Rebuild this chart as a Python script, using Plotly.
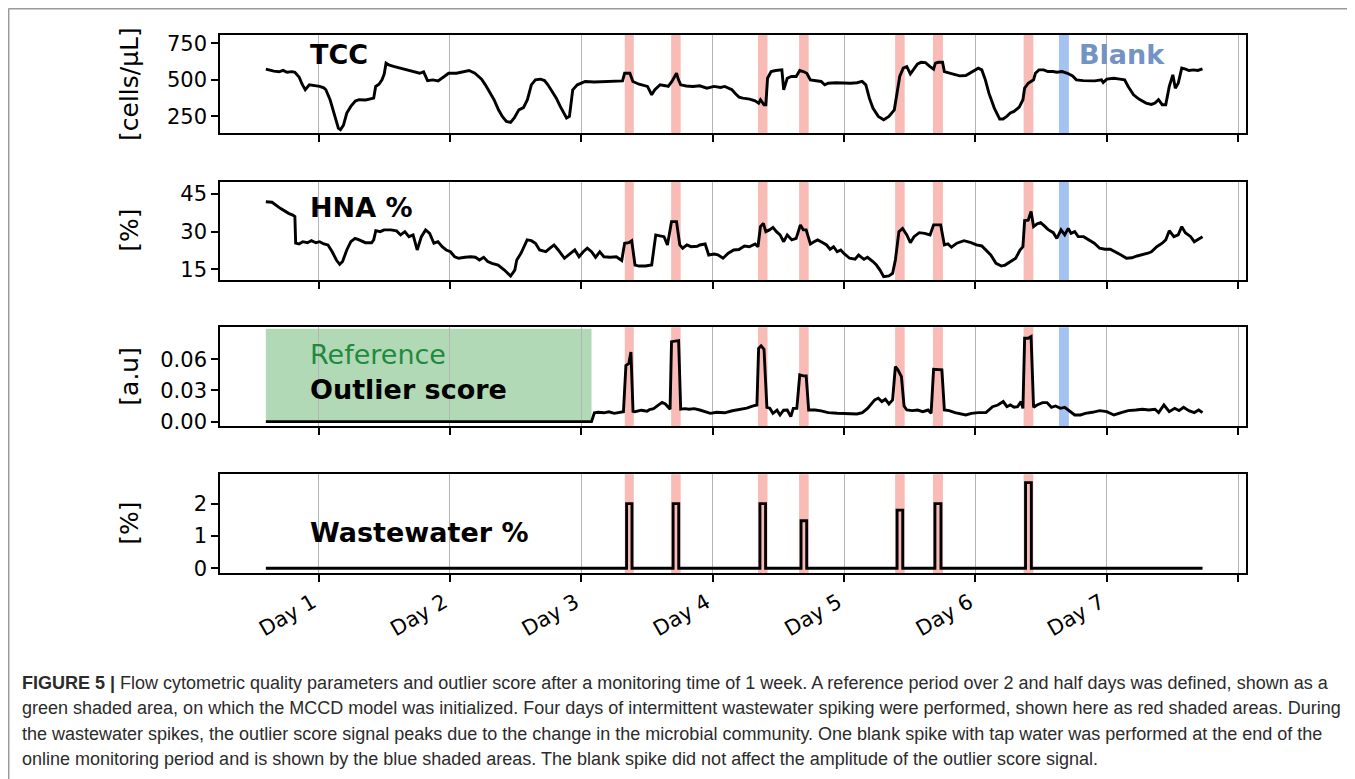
import plotly.graph_objects as go

# ---------------- data (time in days) ----------------
tcc_day = [0.599, 0.63, 0.66, 0.70, 0.73, 0.76, 0.80, 0.82, 0.852, 0.875, 0.899, 0.93, 0.96, 1.009, 1.04, 1.056,
           1.088, 1.12, 1.151, 1.167, 1.19, 1.215, 1.246, 1.28, 1.309, 1.36, 1.40, 1.420, 1.435, 1.46, 1.483, 1.50,
           1.514, 1.54, 1.578, 1.62, 1.673, 1.72, 1.77, 1.80, 1.830, 1.87, 1.91, 1.957, 1.99, 2.05, 2.10, 2.146,
           2.19, 2.241, 2.27, 2.30, 2.336, 2.37, 2.399, 2.43, 2.462, 2.49, 2.525, 2.56, 2.59, 2.620, 2.651, 2.69,
           2.72, 2.746, 2.78, 2.81, 2.84, 2.872, 2.888, 2.91, 2.935, 2.97, 3.030, 3.10, 3.20, 3.28, 3.314, 3.33,
           3.37, 3.393, 3.44, 3.504, 3.536, 3.56, 3.60, 3.64, 3.662, 3.69, 3.725, 3.74, 3.757, 3.80, 3.85, 3.902,
           3.956, 4.011, 4.06, 4.092, 4.147, 4.174, 4.201, 4.23, 4.282, 4.323, 4.350, 4.364, 4.391, 4.405, 4.418,
           4.445, 4.48, 4.527, 4.541, 4.568, 4.60, 4.636, 4.663, 4.69, 4.717, 4.744, 4.78, 4.826, 4.853, 4.880,
           4.94, 4.989, 5.05, 5.10, 5.138, 5.166, 5.193, 5.220, 5.261, 5.302, 5.342, 5.383, 5.397, 5.424, 5.451,
           5.478, 5.505, 5.533, 5.560, 5.587, 5.62, 5.655, 5.682, 5.696, 5.72, 5.750, 5.764, 5.79, 5.832, 5.88,
           5.927, 5.967, 6.022, 6.049, 6.076, 6.103, 6.144, 6.185, 6.21, 6.239, 6.266, 6.294, 6.334, 6.362, 6.375,
           6.402, 6.443, 6.457, 6.484, 6.52, 6.552, 6.59, 6.620, 6.66, 6.701, 6.740, 6.769, 6.82, 6.864, 6.91,
           6.960, 6.973, 7.000, 7.055, 7.10, 7.136, 7.163, 7.204, 7.245, 7.299, 7.340, 7.367, 7.394, 7.422, 7.449,
           7.476, 7.503, 7.522, 7.544, 7.571, 7.60, 7.626, 7.66, 7.693, 7.729]
tcc_val = [573, 565, 560, 555, 565, 552, 556, 552, 520, 470, 432, 466, 462, 455, 445, 432,
           364, 273, 170, 159, 190, 273, 318, 355, 364, 362, 372, 375, 455, 470, 500, 540,
           614, 600, 591, 580, 568, 557, 545, 555, 495, 500, 493, 523, 545, 545, 555, 564,
           545, 505, 466, 420, 364, 295, 250, 216, 209, 240, 295, 310, 364, 466, 500, 505,
           495, 466, 420, 375, 318, 261, 239, 250, 432, 466, 489, 485, 488, 490, 493, 545,
           545, 489, 470, 455, 398, 432, 466, 460, 455, 489, 545, 500, 466, 458, 455, 459,
           443, 455, 448, 455, 432, 405, 382, 375, 368, 357, 341, 364, 330, 330, 511,
           557, 564, 568, 432, 511, 523, 523, 564, 557, 545, 500, 495, 489, 466, 477,
           480, 477, 477, 480, 489, 466, 375, 307, 250, 227, 250, 295, 364, 523, 580,
           591, 541, 573, 609, 620, 618, 591, 573, 614, 620, 620, 557, 550, 541, 527,
           530, 552, 580, 568, 500, 409, 307, 232, 232, 250, 273, 284, 314, 364, 443,
           477, 500, 545, 568, 568, 557, 557, 552, 557, 545, 527, 500, 495, 495, 493,
           500, 482, 505, 511, 505, 500, 455, 398, 368, 341, 332, 341, 364, 330, 330,
           455, 534, 443, 477, 580, 573, 564, 568, 564, 575]

hna_day = [0.599, 0.646, 0.709, 0.74, 0.772, 0.804, 0.820, 0.826, 0.851, 0.88, 0.915, 0.946, 0.98, 1.009, 1.04,
           1.072, 1.104, 1.136, 1.161, 1.183, 1.215, 1.246, 1.278, 1.309, 1.357, 1.404, 1.420, 1.436, 1.47, 1.499,
           1.55, 1.594, 1.625, 1.657, 1.688, 1.720, 1.751, 1.783, 1.815, 1.846, 1.878, 1.909, 1.941, 1.972, 2.004,
           2.036, 2.067, 2.115, 2.16, 2.194, 2.225, 2.257, 2.288, 2.320, 2.367, 2.415, 2.462, 2.494, 2.509, 2.541,
           2.588, 2.620, 2.651, 2.683, 2.730, 2.762, 2.793, 2.825, 2.872, 2.920, 2.951, 2.983, 3.015, 3.046, 3.078,
           3.109, 3.141, 3.172, 3.220, 3.267, 3.308, 3.330, 3.362, 3.384, 3.409, 3.441, 3.488, 3.536, 3.567, 3.599,
           3.630, 3.656, 3.687, 3.725, 3.750, 3.772, 3.804, 3.836, 3.883, 3.902, 3.943, 3.970, 4.011, 4.040, 4.079,
           4.119, 4.160, 4.20, 4.242, 4.28, 4.323, 4.345, 4.364, 4.386, 4.405, 4.432, 4.459, 4.486, 4.513, 4.541,
           4.568, 4.603, 4.636, 4.668, 4.690, 4.712, 4.744, 4.772, 4.799, 4.839, 4.867, 4.894, 4.921, 4.948, 4.975,
           5.003, 5.043, 5.084, 5.111, 5.152, 5.179, 5.220, 5.247, 5.274, 5.302, 5.342, 5.370, 5.391, 5.418, 5.446,
           5.478, 5.505, 5.533, 5.573, 5.614, 5.655, 5.682, 5.736, 5.764, 5.791, 5.818, 5.859, 5.913, 5.967, 6.008,
           6.049, 6.076, 6.117, 6.157, 6.198, 6.226, 6.266, 6.307, 6.340, 6.362, 6.375, 6.402, 6.424, 6.443, 6.470,
           6.497, 6.525, 6.552, 6.593, 6.620, 6.652, 6.680, 6.707, 6.728, 6.756, 6.783, 6.824, 6.864, 6.905, 6.946,
           6.987, 7.027, 7.068, 7.109, 7.150, 7.191, 7.231, 7.272, 7.313, 7.340, 7.381, 7.422, 7.449, 7.476, 7.511,
           7.544, 7.571, 7.598, 7.639, 7.666, 7.693, 7.729]
hna_val = [41.9, 41.7, 39.3, 38.3, 37.3, 36.6, 36.0, 25.4, 25.1, 26.0, 25.6, 26.4, 25.6, 26.0, 25.1,
           24.7, 22.0, 18.7, 17.0, 18.1, 22.7, 26.0, 27.3, 26.7, 25.6, 25.6, 26.7, 30.4, 30.0, 30.7,
           30.7, 30.3, 28.7, 30.0, 28.0, 28.7, 22.7, 28.0, 30.7, 29.3, 25.4, 26.0, 24.0, 22.7, 22.0,
           20.0, 19.4, 19.8, 20.0, 19.8, 18.7, 19.8, 18.1, 17.4, 16.7, 14.7, 12.3, 14.7, 18.7, 21.4,
           26.7, 26.4, 25.4, 22.7, 22.0, 23.4, 24.7, 22.7, 19.4, 21.4, 22.7, 20.0, 22.0, 23.4, 22.0,
           19.8, 22.0, 20.0, 19.8, 20.0, 18.5, 25.4, 25.6, 26.4, 16.7, 16.3, 16.3, 16.7, 28.7, 28.3,
           28.0, 24.7, 34.0, 34.0, 24.7, 23.4, 24.7, 24.0, 24.2, 24.7, 25.1, 20.7, 21.1, 20.8, 19.4,
           21.4, 22.7, 22.9, 24.3, 24.0, 25.1, 24.0, 32.0, 33.3, 30.0, 30.7, 31.7, 30.0, 28.7, 26.0,
           28.7, 26.7, 27.3, 32.7, 30.7, 30.7, 25.1, 26.0, 26.7, 25.6, 24.7, 23.0, 24.0, 22.0, 22.7,
           21.1, 19.4, 19.0, 20.7, 19.0, 19.8, 18.1, 16.7, 14.7, 12.1, 12.4, 13.4, 18.7, 30.0, 31.3,
           28.7, 25.6, 28.0, 29.6, 29.3, 28.7, 32.7, 32.7, 24.7, 25.1, 23.8, 25.4, 26.4, 25.6, 24.7,
           24.3, 22.7, 20.7, 17.4, 16.3, 16.7, 18.1, 19.4, 22.7, 24.0, 34.4, 34.6, 38.0, 32.0, 33.1,
           33.6, 32.3, 30.9, 29.6, 27.3, 30.7, 28.7, 31.3, 29.3, 30.0, 28.0, 28.0, 26.7, 25.4, 23.4,
           23.0, 23.0, 22.0, 20.7, 19.4, 19.6, 20.3, 20.7, 21.4, 22.0, 24.0, 25.4, 26.7, 30.4, 28.0,
           28.7, 32.0, 29.6, 28.0, 26.0, 26.9, 28.0]

out_day = [0.599, 3.078, 3.100, 3.13, 3.172, 3.21, 3.251, 3.29, 3.321, 3.340, 3.362, 3.378, 3.394, 3.409, 3.457,
           3.50, 3.520, 3.55, 3.583, 3.615, 3.640, 3.662, 3.676, 3.687, 3.741, 3.757, 3.79, 3.820, 3.86, 3.902,
           3.94, 3.983, 4.03, 4.092, 4.15, 4.201, 4.26, 4.309, 4.337, 4.350, 4.369, 4.391, 4.413, 4.435, 4.459,
           4.49, 4.513, 4.54, 4.568, 4.595, 4.614, 4.641, 4.663, 4.690, 4.712, 4.731, 4.78, 4.826, 4.88, 4.948,
           5.02, 5.098, 5.14, 5.179, 5.234, 5.261, 5.288, 5.315, 5.342, 5.370, 5.391, 5.410, 5.437, 5.457, 5.478,
           5.52, 5.560, 5.60, 5.640, 5.663, 5.682, 5.723, 5.745, 5.764, 5.80, 5.845, 5.89, 5.927, 5.97, 6.022,
           6.08, 6.131, 6.171, 6.212, 6.24, 6.266, 6.295, 6.321, 6.348, 6.362, 6.375, 6.402, 6.424, 6.443, 6.470,
           6.511, 6.545, 6.579, 6.61, 6.647, 6.68, 6.715, 6.756, 6.80, 6.837, 6.89, 6.946, 7.00, 7.055, 7.11,
           7.163, 7.22, 7.272, 7.32, 7.367, 7.395, 7.435, 7.476, 7.517, 7.55, 7.585, 7.625, 7.666, 7.70, 7.729]
out_val = [0.0, 0.0, 0.0085, 0.0090, 0.0085, 0.0095, 0.0080, 0.0088, 0.0095, 0.054, 0.056, 0.067, 0.0100, 0.0095, 0.0110,
           0.0100, 0.0115, 0.0125, 0.0160, 0.0185, 0.0170, 0.0140, 0.0120, 0.077, 0.078, 0.0120, 0.0125, 0.0120, 0.0125, 0.0112,
           0.0100, 0.0080, 0.0090, 0.0085, 0.0105, 0.0119, 0.0130, 0.0151, 0.0160, 0.0706, 0.0729, 0.0697, 0.0138, 0.0130, 0.0080,
           0.0110, 0.0064, 0.0110, 0.0112, 0.0048, 0.0128, 0.0128, 0.045, 0.044, 0.044, 0.0112, 0.0112, 0.0103, 0.0087, 0.0080,
           0.0080, 0.0074, 0.0087, 0.0128, 0.0209, 0.0225, 0.0193, 0.0215, 0.0170, 0.0209, 0.053, 0.0498, 0.0433, 0.0151, 0.0112,
           0.0106, 0.0112, 0.0096, 0.0112, 0.0080, 0.0504, 0.0504, 0.0498, 0.0112, 0.0106, 0.0087, 0.0074, 0.0064, 0.0080, 0.0087,
           0.0087, 0.0144, 0.0160, 0.0193, 0.0144, 0.0160, 0.0138, 0.0144, 0.0193, 0.0128, 0.0803, 0.0803, 0.0819, 0.0138, 0.0160,
           0.0183, 0.0183, 0.0138, 0.0151, 0.0128, 0.0138, 0.0106, 0.0064, 0.0064, 0.0080, 0.0090, 0.0106, 0.0096, 0.0064, 0.0087,
           0.0106, 0.0112, 0.0119, 0.0112, 0.0119, 0.0087, 0.0160, 0.0096, 0.0128, 0.0106, 0.0138, 0.0106, 0.0087, 0.0112, 0.0087]

# wastewater spiking: shaded intervals, dosing on/off times and dosed %
spike_start = [3.331, 3.684, 4.345, 4.658, 5.389, 5.677, 6.367]
spike_end = [3.400, 3.757, 4.418, 4.731, 5.462, 5.753, 6.441]
ww_on = [3.345, 3.699, 4.360, 4.673, 5.404, 5.692, 6.382]
ww_off = [3.386, 3.742, 4.403, 4.716, 5.447, 5.738, 6.426]
ww_pct = [2.0, 2.0, 2.0, 1.47, 1.8, 2.0, 2.65]
blank_start, blank_end = 6.636, 6.712
reference_end = 3.078

day_ticks = [1, 2, 3, 4, 5, 6, 7, 8]
day_labels = ["Day 1", "Day 2", "Day 3", "Day 4", "Day 5", "Day 6", "Day 7", ""]

caption_lines = [
    "<b>FIGURE 5 |</b> Flow cytometric quality parameters and outlier score after a monitoring time of 1 week. A reference period over 2 and half days was defined, shown as a",
    "green shaded area, on which the MCCD model was initialized. Four days of intermittent wastewater spiking were performed, shown here as red shaded areas. During",
    "the wastewater spikes, the outlier score signal peaks due to the change in the microbial community. One blank spike with tap water was performed at the end of the",
    "online monitoring period and is shown by the blue shaded areas. The blank spike did not affect the amplitude of the outlier score signal.",
]

# ---------------- build the step line for wastewater % ----------------
ww_x = [tcc_day[0]]
ww_y = [0.0]
for on, off, v in zip(ww_on, ww_off, ww_pct):
    ww_x += [on, off]
    ww_y += [v, 0.0]
ww_x.append(tcc_day[-1])
ww_y.append(0.0)

# ---------------- layout geometry ----------------
# the page adds an 8px body margin, so the figure is drawn 8px smaller and
# every page-pixel position below is converted with that offset
OFF = 8
W, H = 1355 - OFF, 779 - OFF


def px(x):
    return (x - OFF) / W


def py(y):
    return 1 - (y - OFF) / H


x_dom = [px(220), px(1246)]
panels = [  # (top px, bottom px, y range)
    (35, 133, [136.4, 806.8]),
    (181.7, 280, [10.74, 49.9]),
    (327.3, 426, [-0.0042, 0.0908]),
    (474.3, 573.3, [-0.155, 2.907]),
]
x_range = [0.25, 8.06]

RED = "#f9bbb6"
BLUE = "#a5c3f2"
GREEN = "#b2d9b6"
FONT = "DejaVu Sans"

fig = go.Figure()

series = [(tcc_day, tcc_val), (hna_day, hna_val), (out_day, out_val)]
for i, (xs, ys) in enumerate(series):
    fig.add_trace(go.Scatter(x=xs, y=ys, mode="lines", line=dict(color="black", width=2.9),
                             xaxis="x" if i == 0 else f"x{i+1}", yaxis="y" if i == 0 else f"y{i+1}",
                             showlegend=False, hoverinfo="skip"))
fig.add_trace(go.Scatter(x=ww_x, y=ww_y, mode="lines", line=dict(color="black", width=2.9, shape="hv"),
                         xaxis="x4", yaxis="y4", showlegend=False, hoverinfo="skip"))

shapes = []
for i in range(4):
    xr = "x" if i == 0 else f"x{i+1}"
    yd = ("y" if i == 0 else f"y{i+1}") + " domain"
    for s, e in zip(spike_start, spike_end):
        shapes.append(dict(type="rect", xref=xr, yref=yd, x0=s, x1=e, y0=0, y1=1,
                           fillcolor=RED, line=dict(width=0), layer="below"))
    if i < 3:
        shapes.append(dict(type="rect", xref=xr, yref=yd, x0=blank_start, x1=blank_end, y0=0, y1=1,
                           fillcolor=BLUE, line=dict(width=0), layer="below"))
# reference (green) period in outlier panel
shapes.append(dict(type="rect", xref="x3", yref="y3", x0=out_day[0], x1=reference_end, y0=0, y1=0.0895,
                   fillcolor=GREEN, line=dict(width=0), layer="below"))
# page frame (top and left)
shapes.append(dict(type="line", xref="paper", yref="paper", x0=px(8.5), x1=1.0, y0=py(8.7), y1=py(8.7),
                   line=dict(color="#9a9a9a", width=1.5)))
shapes.append(dict(type="line", xref="paper", yref="paper", x0=px(8.7), x1=px(8.7), y0=py(8.5), y1=0,
                   line=dict(color="#9a9a9a", width=1.5)))

layout = dict(
    width=W, height=H, template="none",
    paper_bgcolor="white", plot_bgcolor="white",
    margin=dict(l=0, r=0, t=0, b=0, autoexpand=False),
    shapes=shapes, showlegend=False,
)

ytickvals = [[250, 500, 750], [15, 30, 45], [0.0, 0.03, 0.06], [0, 1, 2]]
yticktext = [["250", "500", "750"], ["15", "30", "45"], ["0.00", "0.03", "0.06"], ["0", "1", "2"]]

for i, (top, bot, yr) in enumerate(panels):
    xn = "xaxis" if i == 0 else f"xaxis{i+1}"
    yn = "yaxis" if i == 0 else f"yaxis{i+1}"
    ya = "y" if i == 0 else f"y{i+1}"
    xa = "x" if i == 0 else f"x{i+1}"
    layout[xn] = dict(
        domain=x_dom, anchor=ya, range=x_range, tickmode="array", tickvals=day_ticks,
        ticktext=day_labels, showticklabels=(i == 3), tickangle=-30,
        tickfont=dict(family=FONT, size=21, color="black"),
        showgrid=True, gridcolor="#b4b4b4", gridwidth=1.4, zeroline=False,
        showline=True, mirror=True, linecolor="black", linewidth=1.6,
        ticks="outside", ticklen=7, tickwidth=1.5, tickcolor="black", automargin=False,
    )
    if i == 3:
        layout[xn]["ticklabelshift"] = -6
    if i > 0:
        layout[xn]["matches"] = "x"
    layout[yn] = dict(
        domain=[py(bot), py(top)], anchor=xa, range=yr, tickmode="array",
        tickvals=ytickvals[i], ticktext=yticktext[i],
        tickfont=dict(family=FONT, size=21, color="black"),
        showgrid=False, zeroline=False,
        showline=True, mirror=True, linecolor="black", linewidth=1.6,
        ticks="outside", ticklen=7, tickwidth=1.5, tickcolor="black", automargin=False,
    )

fig.update_layout(**layout)

ann = []
# y-axis titles
for text, top, bot in [("[cells/µL]", 35, 133), ("[%]", 181.7, 280), ("[a.u]", 327.3, 426), ("[%]", 474.3, 573.3)]:
    ann.append(dict(text=text, xref="paper", yref="paper", x=px(130), y=py((top + bot) / 2),
                    xanchor="center", yanchor="middle", textangle=-90, showarrow=False,
                    font=dict(family=FONT, size=25, color="black")))
# in-panel labels
labels = [
    ("<b>TCC</b>", 308, 54, "black"),
    ("<b>Blank</b>", 1077, 54, "#7393c5"),
    ("<b>HNA %</b>", 308, 208, "black"),
    ("Reference", 308, 355, "#1f8a3e"),
    ("<b>Outlier score</b>", 308, 389, "black"),
    ("<b>Wastewater %</b>", 308, 532, "black"),
]
for text, x, y, c in labels:
    ann.append(dict(text=text, xref="paper", yref="paper", x=px(x), y=py(y), xanchor="left",
                    yanchor="middle", showarrow=False, font=dict(family=FONT, size=27, color=c)))
# caption
for k, line in enumerate(caption_lines):
    ann.append(dict(text=line, xref="paper", yref="paper", x=px(20), y=py(683 + 25.3 * k), xanchor="left",
                    yanchor="middle", showarrow=False, align="left",
                    font=dict(family="Liberation Sans", size=18, color="#2b2b2b")))
fig.update_layout(annotations=ann)

fig.write_html("out.html")
